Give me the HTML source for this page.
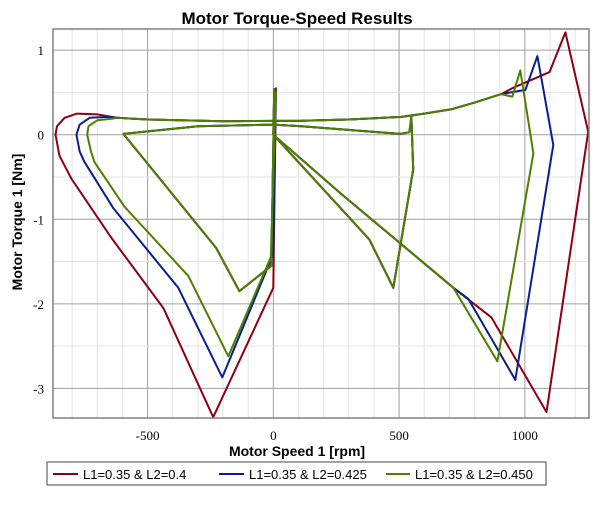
<!DOCTYPE html>
<html><head><meta charset="utf-8"><style>
body{margin:0;background:#fff;width:611px;height:506px;overflow:hidden}
svg{display:block}
</style></head><body>
<svg id="chart" width="611" height="506" xmlns="http://www.w3.org/2000/svg">
<text x="297" y="24" text-anchor="middle" font-family="Liberation Sans, sans-serif" font-weight="bold" font-size="17">Motor Torque-Speed Results</text>
<g id="grid"></g>
<g id="series"></g>
<rect x="53" y="29" width="536" height="389" fill="none" stroke="#808080" stroke-width="1.5"/>
<g id="ticks"></g>
<text x="297" y="456" text-anchor="middle" font-family="Liberation Sans, sans-serif" font-weight="bold" font-size="14">Motor Speed 1 [rpm]</text>
<text transform="translate(22,222) rotate(-90)" text-anchor="middle" font-family="Liberation Sans, sans-serif" font-weight="bold" font-size="14">Motor Torque 1 [Nm]</text>
<g>
<rect x="47" y="462" width="499" height="23" fill="#fff" stroke="#444" stroke-width="1"/>
<line x1="53" y1="474" x2="78" y2="474" stroke="#8b0015" stroke-width="2"/>
<text x="83" y="479" font-family="Liberation Sans, sans-serif" font-size="13">L1=0.35 &amp; L2=0.4</text>
<line x1="219" y1="474" x2="244" y2="474" stroke="#0a1f8f" stroke-width="2"/>
<text x="249" y="479" font-family="Liberation Sans, sans-serif" font-size="13">L1=0.35 &amp; L2=0.425</text>
<line x1="386" y1="474" x2="410" y2="474" stroke="#4f7f00" stroke-width="2"/>
<text x="415" y="479" font-family="Liberation Sans, sans-serif" font-size="13">L1=0.35 &amp; L2=0.450</text>
</g>
</svg>
<script>
const xTicks=[-500,0,500,1000];
const yTicks=[1,0,-1,-2,-3];
const common=[[0,0],[382,-1.24],[477,-1.81],[556,-0.41],[549,0.21],[541,0.03],[505,0.01],[111,0.1],[0,0.12],[-300,0.1],[-596,0.01],[-227,-1.34],[-135,-1.85],[-8,-1.55],[4,0.54],[0,0],[270,-0.7],[716,-1.81]];
const topCurve=[[906,0.48],[800,0.38],[708,0.3],[600,0.25],[509,0.21],[300,0.18],[111,0.165],[-200,0.16],[-500,0.18],[-620,0.2]];
const redRight=[[867,-2.16],[1086,-3.28],[1252,0.035],[1161,1.21],[1098,0.74],[950,0.55]];
const blueRight=[[775,-1.94],[962,-2.9],[1113,-0.12],[1050,0.93],[1002,0.53]];
const greenRight=[[891,-2.68],[1034,-0.22],[982,0.76],[950,0.45]];
const redLeft=[[-700,0.24],[-780,0.25],[-830,0.2],[-860,0.1],[-866,0],[-850,-0.25],[-803,-0.52],[-644,-1.22],[-437,-2.05],[-239,-3.34],[0,-1.81],[10,0.55],[0,0.13]];
const blueLeft=[[-660,0.21],[-730,0.2],[-770,0.12],[-783,0],[-770,-0.2],[-751,-0.32],[-636,-0.87],[-378,-1.81],[-203,-2.87],[0,-1.41],[10,0.5],[0,0.13]];
const greenLeft=[[-640,0.19],[-700,0.17],[-735,0.1],[-740,0],[-725,-0.2],[-712,-0.32],[-592,-0.85],[-338,-1.67],[-179,-2.62],[-10,-1.45],[10,0.5],[0,0.13]];
const X0=53,X1=589,Y0=29,Y1=418;
const xMin=-876,xMax=1255,yMin=-3.35,yMax=1.25;
function sx(v){return X0+(v-xMin)/(xMax-xMin)*(X1-X0);}
function sy(v){return Y1-(v-yMin)/(yMax-yMin)*(Y1-Y0);}
const NS="http://www.w3.org/2000/svg";
const grid=document.getElementById('grid'),ticks=document.getElementById('ticks'),ser=document.getElementById('series');
function ln(p,x1,y1,x2,y2,c,w){const l=document.createElementNS(NS,'line');l.setAttribute('x1',x1);l.setAttribute('y1',y1);l.setAttribute('x2',x2);l.setAttribute('y2',y2);l.setAttribute('stroke',c);l.setAttribute('stroke-width',w);p.appendChild(l);return l;}
for(let v=-800;v<=1200;v+=100){const l=ln(grid,sx(v),Y0,sx(v),Y1,v%500===0?'#a0a0a0':'#e4e4e4',1);

}
for(let v=-3;v<=1;v+=0.5){const l=ln(grid,X0,sy(v),X1,sy(v),Number.isInteger(v)?'#a0a0a0':'#e4e4e4',1);

}
xTicks.forEach(v=>{const t=document.createElementNS(NS,'text');


t.setAttribute('x',sx(v));t.setAttribute('y',440);t.setAttribute('text-anchor','middle');t.setAttribute('font-family','Liberation Serif, serif');t.setAttribute('font-size','13');t.textContent=v;ticks.appendChild(t);});
yTicks.forEach(v=>{const t=document.createElementNS(NS,'text');


t.setAttribute('x',44);t.setAttribute('y',sy(v)+5);t.setAttribute('text-anchor','end');t.setAttribute('font-family','Liberation Serif, serif');t.setAttribute('font-size','13');t.textContent=v;ticks.appendChild(t);});
const sets=[['series-l2-04','#8b0015',redRight,redLeft],['series-l2-0425','#0a1f8f',blueRight,blueLeft],['series-l2-0450','#4f7f00',greenRight,greenLeft]];
sets.forEach(s=>{const pts=common.concat(s[2],topCurve,s[3]);
const p=document.createElementNS(NS,'polyline');


p.setAttribute('points',pts.map(q=>sx(q[0]).toFixed(1)+','+sy(q[1]).toFixed(1)).join(' '));
p.setAttribute('fill','none');p.setAttribute('stroke',s[1]);p.setAttribute('stroke-width','2');p.setAttribute('stroke-linejoin','round');ser.appendChild(p);});
</script>
</body></html>
